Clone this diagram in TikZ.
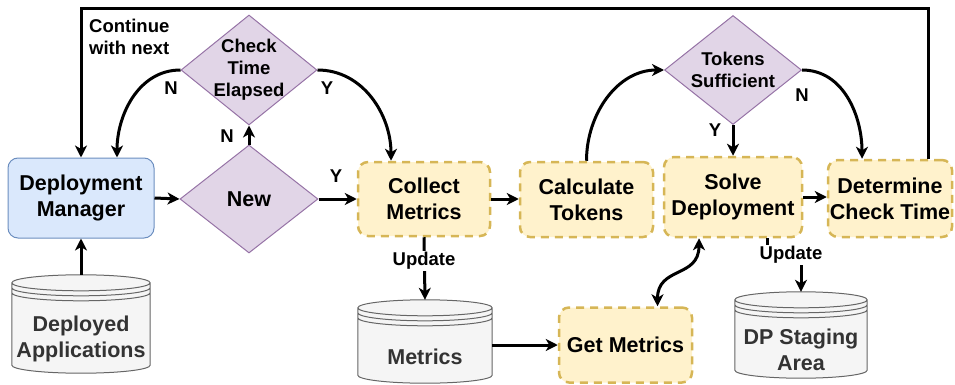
\documentclass[tikz,border=0pt]{standalone}
\usepackage{fontspec}
\setmainfont{Liberation Sans}
\usetikzlibrary{arrows.meta,calc,shapes.geometric}
\definecolor{blueF}{HTML}{DAE8FC}
\definecolor{blueS}{HTML}{6C8EBF}
\definecolor{purpleF}{HTML}{E1D5E7}
\definecolor{purpleS}{HTML}{9673A6}
\definecolor{yellowF}{HTML}{FFF2CC}
\definecolor{yellowS}{HTML}{D6B656}
\definecolor{grayF}{HTML}{F5F5F5}
\definecolor{grayS}{HTML}{666666}
\definecolor{grayT}{HTML}{333333}
\newcommand\drawstore[1]{%
  \path[draw=grayS, fill=grayF, line width=1pt]
    let \p1=(#1.north west), \p2=(#1.south east), \n1={(\x2-\x1)/2} in
    ({\x1},{\y1-8pt}) -- ({\x1},{\y2+8pt})
      arc[start angle=180,end angle=360,x radius=\n1,y radius=8pt]
      -- ({\x2},{\y1-8pt})
      arc[start angle=0,end angle=180,x radius=\n1,y radius=8pt] -- cycle
    ({\x1},{\y1-8pt}) arc[start angle=180,end angle=360,x radius=\n1,y radius=8pt]
    ({\x1},{\y1-13pt}) arc[start angle=180,end angle=360,x radius=\n1,y radius=8pt]
    ({\x1},{\y1-18pt}) arc[start angle=180,end angle=360,x radius=\n1,y radius=8pt];}
\tikzset{
  x=1pt, y=1pt,
  big/.style={font=\fontsize{21.5}{26}\selectfont\bfseries, align=center},
  small/.style={font=\fontsize{18.5}{22}\selectfont\bfseries, align=center},
  mgr/.style={big, draw=blueS, fill=blueF, rounded corners=10pt, line width=1pt,
    minimum width=146pt, minimum height=80pt, inner sep=0pt},
  proc/.style={big, draw=yellowS, fill=yellowF, rounded corners=10pt, line width=2.5pt,
    dash pattern=on 8pt off 6pt, inner sep=0pt},
  decision/.style={diamond, draw=purpleS, fill=purpleF, line width=1pt, inner sep=0pt},
  storebox/.style={draw=none, inner sep=0pt},
  storetext/.style={big, text=grayT},
  arr/.style={line width=3pt, -{Stealth[length=12pt,width=12pt,inset=3.5pt]}},
  biarr/.style={line width=3pt, {Stealth[length=12pt,width=12pt,inset=3.5pt]}-{Stealth[length=12pt,width=12pt,inset=3.5pt]}},
  lbl/.style={small, inner sep=1pt},
}
\begin{document}
\begin{tikzpicture}
\useasboundingbox (0,0) rectangle (955,-385);
% nodes
\node[mgr] (dm) at (81,-198) {Deployment\\Manager};
\node[decision, minimum width=138pt, minimum height=108pt,
  label={[big]center:New}] (new) at (249,-199) {};
\node[decision, minimum width=136pt, minimum height=110pt,
  label={[small]center:Check\\Time\\Elapsed}] (check) at (249,-70) {};
\node[proc, minimum width=132pt, minimum height=74pt] (collect) at (424,-199) {Collect\\Metrics};
\node[proc, minimum width=133pt, minimum height=75pt] (calc) at (586.5,-199.5) {Calculate\\Tokens};
\node[decision, minimum width=137pt, minimum height=109pt,
  label={[small]center:Tokens\\Sufficient}] (tokens) at (733,-70) {};
\node[proc, minimum width=138pt, minimum height=80pt] (solve) at (733,-197) {Solve\\Deployment};
\node[proc, minimum width=124pt, minimum height=77pt] (determine) at (890,-198.5) {Determine\\Check Time};
\node[proc, minimum width=133pt, minimum height=75pt] (getm) at (625.5,-345) {Get Metrics};
\node[storebox, minimum width=138pt, minimum height=98pt] (apps) at (81,-324) {};
\node[storebox, minimum width=134pt, minimum height=83pt] (metrics) at (425,-341.5) {};
\node[storebox, minimum width=132pt, minimum height=86pt] (dp) at (801,-335) {};
\drawstore{apps}
\drawstore{metrics}
\drawstore{dp}
\node[storetext] (appsT) at ([yshift=-15pt]apps.center) {Deployed\\Applications};
\node[storetext] (metricsT) at ([yshift=-15.5pt]metrics.center) {Metrics};
\node[storetext] (dpT) at ([yshift=-15pt]dp.center) {DP Staging\\Area};
% straight connectors
\draw[arr] (dm.east) -- (new.west);
\draw[arr] (new.east) -- (new.east -| collect.west);
\draw[arr] (new.north) -- (check.south);
\draw[arr] (collect.east) -- (collect.east -| calc.west);
\draw[arr] (tokens.south) -- (solve.north);
\draw[arr] (solve.east) -- (solve.east -| determine.west);
\draw[arr] (apps.north) -- (dm.south);
\draw[arr] (metrics.east |- getm.west) -- (getm.west);
% curved connectors
\draw[arr] (check.west) to[out=180,in=90] ([xshift=36pt]dm.north);
\draw[arr] (check.east) to[out=0,in=90] ([xshift=-33pt]collect.north);
\draw[arr] (calc.north) to[out=90,in=180] (tokens.west);
\draw[arr] (tokens.east) to[out=0,in=90] ([xshift=-28pt]determine.north);
\draw[biarr] ([xshift=-34pt]solve.south) .. controls +(0,-40) and +(0,40) .. ([xshift=32pt]getm.north);
% loop back
\coordinate (ltop) at (0,-9);
\coordinate (lstart) at ([xshift=38pt]determine.north);
\draw[arr] (lstart) -- (lstart |- ltop) -- (dm.north |- ltop) -- (dm.north);
% update connectors
\draw[arr] (collect.south) -- (metrics.north);
\node[lbl, fill=white] (up1) at (424,-261) {Update};
\coordinate (su) at (767,-255);
\draw[arr] (su |- solve.south) -- (su) -- (su -| dp.north) -- (dp.north);
\node[lbl, fill=white] (up2) at (791,-255) {Update};
% labels
\node[lbl] (l1) at (171,-88) {N};
\node[lbl] (l2) at (327,-88) {Y};
\node[lbl] (l3) at (227,-136) {N};
\node[lbl] (l4) at (336,-176) {Y};
\node[lbl] (l5) at (802,-95) {N};
\node[lbl] (l6) at (715,-130) {Y};
\node[small, anchor=west, align=left, inner sep=0pt] (cont) at (89,-37) {Continue\\with next};
\end{tikzpicture}
\end{document}
